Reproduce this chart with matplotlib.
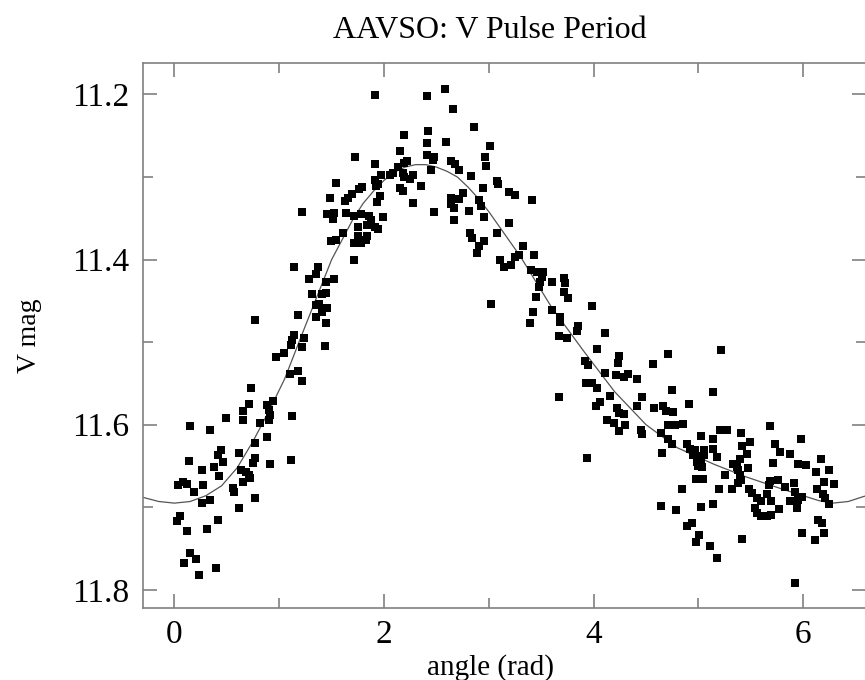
import matplotlib
matplotlib.use("Agg")
import matplotlib.pyplot as plt
from matplotlib.ticker import MultipleLocator

plt.rcParams['font.family'] = ['Liberation Serif', 'DejaVu Serif']

# phase-folded AAVSO V observations, read off the plot
# rising branch (angle ~0 - 1.1)
angle_a = [0.15, 0.34, 0.88, 0.77, 0.44, 0.42, 0.62, 0.46, 0.14, 0.77,
           0.75, 0.91, 1.11, 0.38, 0.26, 0.64, 0.68, 0.71, 0.72, 0.43,
           0.65, 0.03, 0.08, 0.12, 0.27, 0.56, 0.57, 0.19, 0.77, 0.34,
           0.26, 0.62, 0.05, 0.02, 0.42, 0.31, 0.12, 0.15, 0.21, 0.09,
           0.40, 0.23]
vmag_a = [11.602, 11.606, 11.615, 11.622, 11.631, 11.637, 11.634, 11.645, 11.644, 11.640,
          11.646, 11.648, 11.643, 11.651, 11.655, 11.655, 11.657, 11.661, 11.664, 11.662,
          11.670, 11.673, 11.670, 11.672, 11.673, 11.677, 11.681, 11.682, 11.689, 11.691,
          11.695, 11.701, 11.711, 11.717, 11.715, 11.726, 11.729, 11.756, 11.763, 11.768,
          11.774, 11.782]

angle_b = [1.14, 1.37, 1.35, 1.28, 1.45, 1.31, 1.41, 1.45, 1.35, 1.38,
           1.46, 1.41, 1.35, 1.18, 1.45, 0.77, 1.14, 1.12, 1.24, 1.11,
           1.22, 1.44, 1.05, 0.97, 1.18, 1.10, 1.22, 0.73, 0.94, 0.71,
           0.88, 0.90, 0.65, 0.65, 0.91, 0.49, 1.12, 0.82, 0.90,
           1.22, 1.71, 1.52]
vmag_b = [11.409, 11.409, 11.417, 11.424, 11.427, 11.442, 11.442, 11.441, 11.455, 11.454,
          11.459, 11.463, 11.469, 11.467, 11.477, 11.473, 11.491, 11.497, 11.495, 11.504,
          11.506, 11.505, 11.513, 11.518, 11.535, 11.539, 11.547, 11.556, 11.571, 11.575,
          11.576, 11.582, 11.584, 11.594, 11.588, 11.592, 11.590, 11.598, 11.594,
          11.342, 11.401, 11.423]

# maximum (angle ~1.5 - 3.4)
angle_c = [1.91, 2.41, 2.58, 2.66, 2.86, 2.19, 2.42, 2.41, 2.59, 3.01,
           2.15, 1.72, 2.41, 2.48, 2.47, 2.96, 2.22, 2.19, 1.91, 2.64,
           2.68, 2.72, 2.97, 2.45, 2.13, 2.09, 2.18, 1.97, 2.06, 2.83,
           1.54, 1.91, 2.19, 2.25, 2.28, 1.79, 1.76, 1.92, 1.94, 2.15,
           2.18, 2.35, 2.94, 3.08, 3.09, 3.19, 1.69, 1.66, 1.48, 1.63,
           1.96, 1.93, 2.75, 2.64, 2.64, 2.72, 2.67, 2.91, 2.93, 2.28,
           2.48, 2.81, 2.67, 2.95, 1.46, 1.52, 1.64, 1.71, 1.78, 1.86,
           1.88, 1.51, 1.99, 1.75, 1.84, 1.91, 1.94, 1.61, 1.75, 1.84,
           1.49, 1.54, 1.71, 1.78, 1.83, 2.82, 2.84, 3.08, 2.95, 2.91,
           3.19, 3.25, 3.41, 3.33, 2.89, 3.02]
vmag_c = [11.201, 11.202, 11.193, 11.218, 11.239, 11.249, 11.244, 11.259, 11.257, 11.263,
          11.268, 11.276, 11.273, 11.276, 11.279, 11.276, 11.280, 11.283, 11.284, 11.280,
          11.284, 11.292, 11.287, 11.291, 11.288, 11.295, 11.295, 11.298, 11.298, 11.299,
          11.307, 11.303, 11.300, 11.302, 11.298, 11.312, 11.315, 11.311, 11.309, 11.313,
          11.317, 11.311, 11.313, 11.305, 11.309, 11.318, 11.321, 11.325, 11.326, 11.329,
          11.323, 11.330, 11.319, 11.326, 11.333, 11.327, 11.337, 11.328, 11.335, 11.331,
          11.342, 11.341, 11.352, 11.348, 11.345, 11.343, 11.344, 11.347, 11.345, 11.347,
          11.352, 11.351, 11.348, 11.360, 11.358, 11.360, 11.363, 11.368, 11.372, 11.372,
          11.378, 11.376, 11.380, 11.380, 11.376, 11.368, 11.374, 11.368, 11.378, 11.384,
          11.356, 11.322, 11.328, 11.384, 11.392, 11.454]

# declining branch (angle ~3.1 - 4.9)
angle_d = [3.14, 3.21, 3.25, 3.29, 3.43, 3.40, 3.46, 3.52, 3.51, 3.49,
           3.60, 3.72, 3.73, 3.48, 3.72, 3.76, 3.45, 3.98, 3.60, 3.42,
           3.68, 3.68, 3.39, 3.85, 3.84, 4.11, 3.67, 3.75, 4.03, 3.92,
           3.95, 4.24, 4.23, 4.71, 4.57, 4.11, 4.21, 4.29, 4.33, 4.41,
           3.93, 3.98, 4.03, 4.75, 3.67, 4.16, 4.46, 4.06, 4.02, 4.22,
           4.41, 4.24, 4.29, 4.58, 4.66, 4.69, 4.76, 4.91, 4.13, 4.19,
           4.30, 4.71, 4.78, 4.85, 3.11,
           4.24, 4.45, 4.46, 4.64, 4.71, 4.75, 4.89, 4.65, 3.94, 4.84,
           4.64, 4.79, 4.89, 5.22, 5.14]
vmag_d = [11.409, 11.407, 11.397, 11.395, 11.395, 11.413, 11.415, 11.415, 11.421, 11.427,
          11.427, 11.422, 11.428, 11.433, 11.439, 11.447, 11.445, 11.456, 11.461, 11.463,
          11.469, 11.475, 11.477, 11.481, 11.487, 11.489, 11.493, 11.495, 11.508, 11.523,
          11.528, 11.517, 11.525, 11.514, 11.527, 11.537, 11.540, 11.542, 11.539, 11.545,
          11.550, 11.549, 11.556, 11.558, 11.567, 11.565, 11.566, 11.572, 11.577, 11.580,
          11.577, 11.586, 11.587, 11.580, 11.577, 11.583, 11.585, 11.575, 11.594, 11.598,
          11.600, 11.600, 11.600, 11.599, 11.400,
          11.608, 11.606, 11.611, 11.610, 11.617, 11.623, 11.623, 11.634, 11.640, 11.678,
          11.698, 11.703, 11.723, 11.510, 11.560]

# minimum (angle ~4.9 - 6.3)
angle_e = [5.68, 5.21, 5.27, 5.41, 5.02, 5.14, 5.98, 5.49, 5.42, 5.73,
           4.92, 4.97, 5.05, 5.14, 5.46, 5.78, 5.87, 4.95, 5.00, 5.05,
           5.18, 5.40, 6.17, 4.99, 5.02, 5.71, 5.33, 5.95, 6.03, 5.00,
           5.03, 5.37, 5.38, 5.47, 6.12, 6.25, 5.25, 5.40, 4.98, 5.04,
           5.41, 5.76, 5.68, 6.20, 6.29, 5.38, 5.67, 5.91, 5.83, 5.20,
           5.32, 5.48, 6.13, 5.51, 5.65, 5.92, 5.99, 6.19, 5.56, 5.60,
           5.69, 5.87, 5.95, 6.21, 6.25, 5.14, 5.02, 5.54, 5.77, 5.94,
           5.56, 5.60, 5.65, 5.69, 6.14, 6.18, 4.94, 5.99, 6.20, 5.01,
           4.98, 5.42, 6.11, 5.11, 5.18, 5.92]
vmag_e = [11.602, 11.606, 11.607, 11.610, 11.614, 11.617, 11.617, 11.621, 11.626, 11.623,
          11.629, 11.631, 11.631, 11.630, 11.635, 11.633, 11.635, 11.637, 11.638, 11.637,
          11.639, 11.642, 11.642, 11.645, 11.646, 11.646, 11.647, 11.647, 11.649, 11.650,
          11.651, 11.651, 11.655, 11.653, 11.657, 11.655, 11.661, 11.661, 11.666, 11.666,
          11.667, 11.667, 11.668, 11.669, 11.672, 11.671, 11.673, 11.671, 11.675, 11.678,
          11.678, 11.678, 11.678, 11.683, 11.684, 11.682, 11.687, 11.684, 11.689, 11.693,
          11.692, 11.693, 11.691, 11.689, 11.696, 11.696, 11.700, 11.701, 11.702, 11.701,
          11.707, 11.711, 11.711, 11.709, 11.715, 11.719, 11.719, 11.731, 11.731, 11.734,
          11.742, 11.739, 11.740, 11.747, 11.761, 11.792]

# fitted light curve, sampled off the plot
fit_angle = [-0.3, -0.15, 0.0, 0.15, 0.3, 0.45, 0.6, 0.75, 0.9, 1.05, 1.25, 1.5,
             1.6, 1.7, 1.8, 1.9, 2.0, 2.1, 2.2, 2.3, 2.4, 2.5, 2.6, 2.7, 2.8,
             2.9, 3.0, 3.1, 3.2, 3.3, 3.6, 3.9, 4.2, 4.5, 4.8, 5.15, 5.45,
             5.8, 6.0, 6.15, 6.28, 6.43, 6.6]
fit_vmag = [11.688, 11.693, 11.695, 11.693, 11.686, 11.674, 11.652, 11.620, 11.584, 11.545,
            11.480, 11.400, 11.376, 11.352, 11.332, 11.317, 11.304, 11.294, 11.288, 11.285,
            11.285, 11.288, 11.293, 11.300, 11.312, 11.326, 11.342, 11.360, 11.378, 11.396,
            11.458, 11.510, 11.560, 11.600, 11.628, 11.648, 11.663, 11.678, 11.686, 11.692,
            11.695, 11.693, 11.686]

angle = angle_a + angle_b + angle_c + angle_d + angle_e
vmag = vmag_a + vmag_b + vmag_c + vmag_d + vmag_e

fig = plt.figure(figsize=(8.65, 6.8), dpi=100)
ax = fig.add_axes([0.1653, 0.1059, 0.836, 0.8013])

ax.plot(fit_angle, fit_vmag, color='#555555', lw=0.9, zorder=2)
ax.scatter(angle, vmag, marker='s', s=26, color='black', linewidths=0, zorder=3)

ax.set_xlim(-0.3, 6.6)
ax.set_ylim(11.822, 11.162)

ax.xaxis.set_major_locator(MultipleLocator(2))
ax.xaxis.set_minor_locator(MultipleLocator(1))
ax.yaxis.set_major_locator(MultipleLocator(0.2))
ax.yaxis.set_minor_locator(MultipleLocator(0.1))
ax.tick_params(which='both', direction='in', top=True, right=True,
               color='#808080', width=1.2, labelsize=24)
ax.tick_params(axis='x', pad=8)
ax.tick_params(axis='y', pad=10)
ax.tick_params(which='major', length=10)
ax.tick_params(which='minor', length=7)
for sp in ax.spines.values():
    sp.set_color('#808080')
    sp.set_linewidth(1.2)

ax.set_xlabel("angle (rad)", fontsize=21)
ax.set_ylabel("V mag", fontsize=20)
ax.xaxis.set_label_coords(0.48, -0.085)
ax.yaxis.set_label_coords(-0.14, 0.5)
ax.set_title("AAVSO: V Pulse Period", fontsize=23, x=0.48, pad=18)

fig.savefig("out.png", dpi=100)
